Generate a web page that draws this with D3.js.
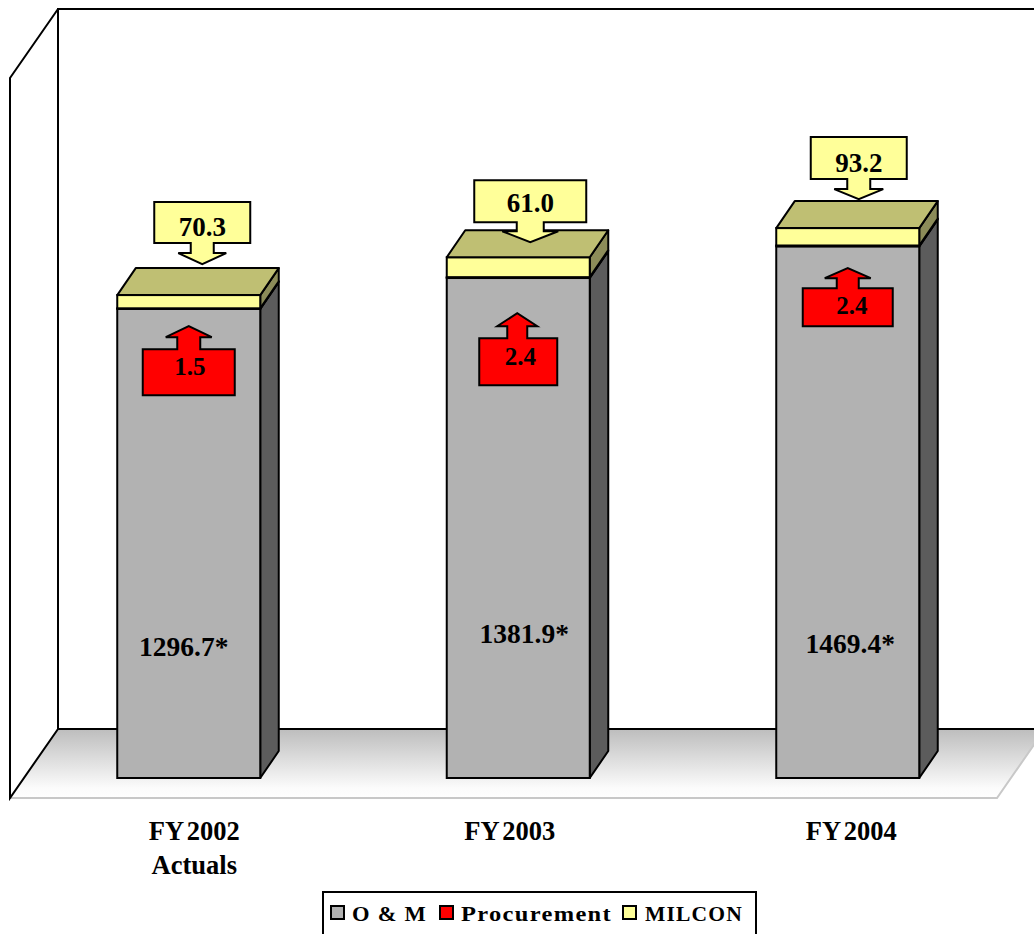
<!DOCTYPE html>
<html>
<head>
<meta charset="utf-8">
<script src="https://cdn.jsdelivr.net/npm/d3@7"></script>
<style>
  html, body { margin: 0; padding: 0; background: #fff; overflow: hidden; }
  svg { display: block; font-family: "Liberation Serif", serif; font-weight: bold; }
</style>
</head>
<body>
<div id="chart"></div>
<script>
const WIDTH = 1034;
const HEIGHT = 934;

// Data
const categories = ['FY 2002', 'FY 2003', 'FY 2004'];
const categoryNotes = ['Actuals', '', ''];
const omValues = [1296.7, 1381.9, 1469.4];
const procurementValues = [1.5, 2.4, 2.4];
// Height the MILCON slab is drawn at, the callouts below quote other numbers
const milconDrawn = [36.5, 55, 48];
const omLabels = ['1296.7*', '1381.9*', '1469.4*'];
const procurementLabels = ['1.5', '2.4', '2.4'];
const milconLabels = ['70.3', '61.0', '93.2'];
const seriesNames = ['O & M', 'Procurement', 'MILCON'];

// Colours per series: front, side, top
const colours = {
  'O & M': ['#b2b2b2', '#5c5c5c', '#8a8a8a'],
  'Procurement': ['#ff0000', '#800000', '#bf0000'],
  'MILCON': ['#ffff99', '#8c8c59', '#bfbf73'],
};

// 3D depth of the plot and of the bars
const WALL = {dx: 48, dy: 69};
const BAR = {dx: 18.5, dy: 27};

// Callouts were placed by hand in the original.
// tipX, tipY are from the bar centre and segment top, the rest is from the tip
const milconCallouts = [
  {tipX: 13.5, tipY: -31, left: -48, right: 48, top: -62, bottom: -21, head: -11, headHalf: 24, shaftHalf: 11.5, textY: -28},
  {tipX: 12, tipY: -15, left: -56, right: 56, top: -62, bottom: -20, head: -11, headHalf: 28, shaftHalf: 13.5, textY: -30},
  {tipX: 11, tipY: -29, left: -48, right: 48, top: -62, bottom: -20, head: -10, headHalf: 24.5, shaftHalf: 11.5, textY: -27},
];
const procurementCallouts = [
  {tipX: 0, tipY: 17.3, left: -46, right: 46, top: 23, bottom: 69, head: 11, headHalf: 23, shaftHalf: 11.5, textX: 1, textY: 49},
  {tipX: -1, tipY: 35.2, left: -38, right: 40, top: 25, bottom: 72, head: 13, headHalf: 20, shaftHalf: 10, textX: 3, textY: 52},
  {tipX: 0, tipY: 21.8, left: -45, right: 45, top: 20, bottom: 58, head: 10, headHalf: 23, shaftHalf: 11, textX: 4, textY: 46},
];
const omLabelOffsets = [
  {x: -5, y: 347},
  {x: 6, y: 365},
  {x: 2.5, y: 407},
];
const tickOffsets = [5.5, -8.5, 3.5];

const svg = d3.select('#chart').append('svg')
  .attr('width', WIDTH)
  .attr('height', HEIGHT)
  .attr('viewBox', `0 0 ${WIDTH} ${HEIGHT}`);

// Floor gradient
const grad = svg.append('defs').append('linearGradient')
  .attr('id', 'floor')
  .attr('x1', 0).attr('y1', 0)
  .attr('x2', 0).attr('y2', 1);
grad.append('stop').attr('offset', '0%').attr('stop-color', '#bdbdbd');
grad.append('stop').attr('offset', '85%').attr('stop-color', '#fbfbfb');
grad.append('stop').attr('offset', '100%').attr('stop-color', '#ffffff');

// Scales
const x = d3.scaleBand()
  .domain(categories)
  .range([24, 1012.5])
  .paddingInner(0.566)
  .paddingOuter(0.283);

const y = d3.scaleLinear()
  .domain([0, 1990])
  .range([778, 58]);

const floorY = y(0) + 20;
const planeLeft = 10;
const planeRight = 997;
const backY = floorY - WALL.dy;
const wallTop = y(1990) - 49;

// Floor
svg.append('path')
  .attr('d', d3.line()([
    [planeLeft, floorY],
    [planeLeft + WALL.dx, backY],
    [planeRight + WALL.dx, backY],
    [planeRight, floorY],
  ]) + 'Z')
  .attr('fill', 'url(#floor)');

svg.append('path')
  .attr('d', d3.line()([
    [planeLeft, floorY],
    [planeRight, floorY],
    [planeRight + WALL.dx, backY],
  ]))
  .attr('fill', 'none')
  .attr('stroke', '#c8c8c8')
  .attr('stroke-width', 2);

// Walls
svg.append('path')
  .attr('d', d3.line()([
    [WIDTH + 5, wallTop],
    [planeLeft + WALL.dx, wallTop],
    [planeLeft + WALL.dx, backY],
    [WIDTH + 5, backY],
  ]))
  .attr('fill', 'none')
  .attr('stroke', 'black')
  .attr('stroke-width', 2);

svg.append('path')
  .attr('d', d3.line()([
    [planeLeft + WALL.dx, backY],
    [planeLeft, floorY],
    [planeLeft, wallTop + WALL.dy],
    [planeLeft + WALL.dx, wallTop],
  ]))
  .attr('fill', 'none')
  .attr('stroke', 'black')
  .attr('stroke-width', 2);

// Bars
const table = categories.map((c, i) => ({
  category: c,
  'O & M': omValues[i],
  'Procurement': procurementValues[i],
  'MILCON': milconDrawn[i],
}));

const stacked = d3.stack().keys(seriesNames)(table);

const segments = svg.append('g')
  .selectAll('g')
  .data(stacked)
  .join('g');

segments.selectAll('path.side')
  .data(s => s.map(d => ({key: s.key, d})))
  .join('path')
  .attr('class', 'side')
  .attr('d', ({d}) => {
    const r = x(d.data.category) + x.bandwidth();
    return d3.line()([
      [r, y(d[0])],
      [r + BAR.dx, y(d[0]) - BAR.dy],
      [r + BAR.dx, y(d[1]) - BAR.dy],
      [r, y(d[1])],
    ]) + 'Z';
  })
  .attr('fill', ({key}) => colours[key][1])
  .attr('stroke', 'black')
  .attr('stroke-width', 2)
  .attr('stroke-linejoin', 'round');

segments.selectAll('rect')
  .data(s => s.map(d => ({key: s.key, d})))
  .join('rect')
  .attr('x', ({d}) => x(d.data.category))
  .attr('width', x.bandwidth())
  .attr('y', ({d}) => y(d[1]))
  .attr('height', ({d}) => y(d[0]) - y(d[1]))
  .attr('fill', ({key}) => colours[key][0])
  .attr('stroke', 'black')
  .attr('stroke-width', 2);

// Top of the stack
svg.append('g')
  .selectAll('path')
  .data(stacked[stacked.length - 1])
  .join('path')
  .attr('d', d => {
    const l = x(d.data.category);
    const r = l + x.bandwidth();
    return d3.line()([
      [l, y(d[1])],
      [l + BAR.dx, y(d[1]) - BAR.dy],
      [r + BAR.dx, y(d[1]) - BAR.dy],
      [r, y(d[1])],
    ]) + 'Z';
  })
  .attr('fill', colours['MILCON'][2])
  .attr('stroke', 'black')
  .attr('stroke-width', 2)
  .attr('stroke-linejoin', 'round');

// Callouts
function arrowPoints(c) {
  // near is the box edge the arrow leaves from, far the opposite one
  const near = c.head < 0 ? c.bottom : c.top;
  const far = c.head < 0 ? c.top : c.bottom;
  return [
    [c.left, far],
    [c.right, far],
    [c.right, near],
    [c.shaftHalf, near],
    [c.shaftHalf, c.head],
    [c.headHalf, c.head],
    [0, 0],
    [-c.headHalf, c.head],
    [-c.shaftHalf, c.head],
    [-c.shaftHalf, near],
    [c.left, near],
  ];
}

const centre = c => x(c) + x.bandwidth() / 2;

function drawCallouts(layout, labels, anchorY, fill, fontSize) {
  const g = svg.append('g')
    .selectAll('g')
    .data(categories)
    .join('g')
    .attr('transform', (c, i) => `translate(${centre(c) + layout[i].tipX}, ${anchorY(i) + layout[i].tipY})`);

  g.append('path')
    .attr('d', (c, i) => d3.line()(arrowPoints(layout[i])) + 'Z')
    .attr('fill', fill)
    .attr('stroke', 'black')
    .attr('stroke-width', 2);

  g.append('text')
    .attr('x', (c, i) => layout[i].textX || 0)
    .attr('y', (c, i) => layout[i].textY)
    .attr('text-anchor', 'middle')
    .attr('font-size', fontSize)
    .text((c, i) => labels[i]);
}

const topOf = i => y(omValues[i] + procurementValues[i] + milconDrawn[i]);

drawCallouts(milconCallouts, milconLabels, topOf, colours['MILCON'][0], 27);
drawCallouts(procurementCallouts, procurementLabels, i => y(omValues[i]), colours['Procurement'][0], 25);

// O & M labels
svg.append('g')
  .selectAll('text')
  .data(categories)
  .join('text')
  .attr('x', (c, i) => centre(c) + omLabelOffsets[i].x)
  .attr('y', (c, i) => y(omValues[i]) + omLabelOffsets[i].y)
  .attr('text-anchor', 'middle')
  .attr('font-size', 27.5)
  .text((c, i) => omLabels[i]);

// Category axis
const xAxis = svg.append('g')
  .attr('transform', `translate(0, ${floorY})`)
  .call(d3.axisBottom(x).tickSize(0).tickPadding(0));

xAxis.select('.domain').remove();
xAxis.selectAll('.tick text')
  .attr('font-family', '"Liberation Serif", serif')
  .attr('font-weight', 'bold')
  .attr('font-size', 26.5)
  .attr('dx', (c, i) => tickOffsets[i])
  .attr('y', 42)
  .attr('dy', 0)
  .attr('fill', 'black')
  .attr('word-spacing', -3);

xAxis.selectAll('.tick')
  .append('text')
  .attr('font-family', '"Liberation Serif", serif')
  .attr('font-weight', 'bold')
  .attr('font-size', 26.5)
  .attr('text-anchor', 'middle')
  .attr('dx', (c, i) => tickOffsets[i])
  .attr('y', 76)
  .attr('fill', 'black')
  .text((c, i) => categoryNotes[i]);

// Legend
const legend = svg.append('g');

legend.append('rect')
  .attr('x', 323)
  .attr('y', 892)
  .attr('width', 433)
  .attr('height', 60)
  .attr('fill', 'white')
  .attr('stroke', 'black')
  .attr('stroke-width', 2);

const legendX = [331, 440, 623];
const legendWidths = [75, 151, 98];

const items = legend.selectAll('g')
  .data(seriesNames)
  .join('g')
  .attr('transform', (d, i) => `translate(${legendX[i]}, 906)`);

items.append('rect')
  .attr('width', 13)
  .attr('height', 13)
  .attr('fill', d => colours[d][0])
  .attr('stroke', 'black')
  .attr('stroke-width', 2);

items.append('text')
  .attr('x', (d, i) => i === 2 ? 22 : 21)
  .attr('y', 15)
  .attr('font-size', 22)
  .attr('letter-spacing', 1.2)
  .attr('textLength', (d, i) => legendWidths[i])
  .attr('lengthAdjust', 'spacingAndGlyphs')
  .text(d => d);
</script>
</body>
</html>
